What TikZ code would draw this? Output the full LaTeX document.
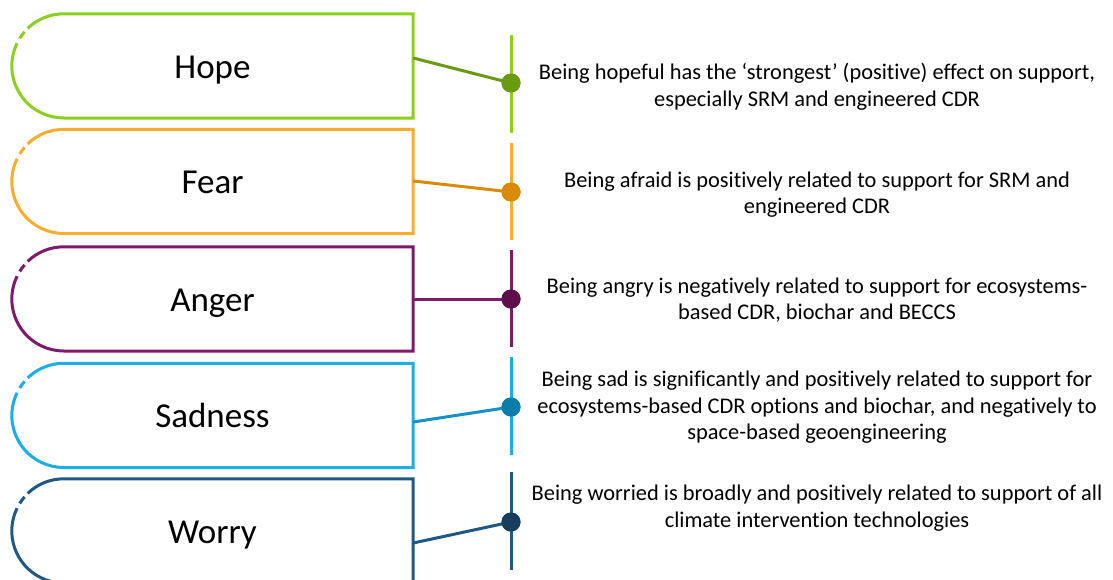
\documentclass[tikz,border=0pt]{standalone}
\usepackage{fontspec}
\setmainfont{Carlito}[Ligatures=NoCommon]
\usetikzlibrary{calc}
\definecolor{HopeBox}{RGB}{140,208,30}
\definecolor{HopeDark}{RGB}{106,154,16}
\definecolor{FearBox}{RGB}{250,173,45}
\definecolor{FearDark}{RGB}{217,138,8}
\definecolor{AngerBox}{RGB}{126,26,108}
\definecolor{AngerDark}{RGB}{94,14,76}
\definecolor{SadBox}{RGB}{26,174,228}
\definecolor{SadLink}{RGB}{20,145,200}
\definecolor{SadDark}{RGB}{12,124,170}
\definecolor{WorryBox}{RGB}{31,88,132}
\definecolor{WorryDark}{RGB}{22,62,95}
\tikzset{
  emolabel/.style={minimum width=401pt, minimum height=104pt, inner sep=0pt,
    text height=24pt, text depth=0pt, font=\fontsize{35}{40}\selectfont},
  outline/.style={line width=3pt, line join=miter},
  stem/.style={line width=3pt},
  link/.style={line width=3pt},
  dotnode/.style={circle, minimum size=19pt, inner sep=0pt},
  desc/.style={align=center, inner sep=0pt, font=\fontsize{22.4}{26.6}\selectfont},
}
% #1 name, #2 colour, #3 label, #4 centre y
\newcommand\EmoBox[4]{%
  \node[emolabel] (#1) at (212.5,-#4) {#3};
  \coordinate (#1c) at ($(#1.west)+(52,0)$);
  \draw[outline,#2] ($(#1c)+(154:52)$) arc[start angle=154,end angle=270,radius=52]
     -- (#1.south east) -- (#1.north east) -- ($(#1.north west)+(52,0)$)
     arc[start angle=90,end angle=134,radius=52];
  \draw[outline,#2] ($(#1c)+(139:52)$) arc[start angle=139,end angle=148,radius=52];
}
% #1 name, #2 stem colour, #3 link colour, #4 dot colour, #5 link offset, #6 dot y, #7 stem top, #8 stem bottom
\newcommand\EmoLink[8]{%
  \coordinate (#1top) at (511,-#7);
  \coordinate (#1bot) at (511,-#8);
  \coordinate (#1out) at ($(#1.east)+(0,#5)$);
  \node[dotnode, fill=#4] (#1dot) at (511,-#6) {};
  \draw[stem,#2] (#1top) -- (#1bot);
  \draw[link,#3] (#1out) -- (#1dot.center);
  \fill[#4] (#1dot.center) circle[radius=9.5];
}
\begin{document}
\begin{tikzpicture}[x=1pt,y=1pt]
\useasboundingbox (0,0) rectangle (1113,-579);
\clip (0,0) rectangle (1113,-579);
\fill[white] (0,0) rectangle (1113,-579);

\EmoBox{hope}{HopeBox}{Hope}{66}
\EmoBox{fear}{FearBox}{Fear}{181.5}
\EmoBox{anger}{AngerBox}{Anger}{299}
\EmoBox{sad}{SadBox}{Sadness}{415.5}
\EmoBox{worry}{WorryBox}{Worry}{531}

\EmoLink{hope}{HopeBox}{HopeDark}{HopeDark}{8}{83}{35}{133}
\EmoLink{fear}{FearBox}{FearDark}{FearDark}{0.5}{192}{143}{240}
\EmoLink{anger}{AngerBox}{AngerBox}{AngerDark}{0}{299}{250}{347}
\EmoLink{sad}{SadBox}{SadLink}{SadDark}{-6.5}{407}{357}{455}
\EmoLink{worry}{WorryBox}{WorryBox}{WorryDark}{-12}{522}{472}{570}

\node[desc] (hopetext) at (817,-86.5) {Being hopeful has the ‘strongest’ (positive) effect on support,\\especially SRM and engineered CDR};
\node[desc] (feartext) at (817,-194.5) {Being afraid is positively related to support for SRM and\\engineered CDR};
\node[desc] (angertext) at (817,-300) {Being angry is negatively related to support for ecosystems-\\based CDR, biochar and BECCS};
\node[desc] (sadtext) at (817,-407.5) {Being sad is significantly and positively related to support for\\ecosystems-based CDR options and biochar, and negatively to\\space-based geoengineering};
\node[desc] (worrytext) at (817,-508) {Being worried is broadly and positively related to support of all\\climate intervention technologies};
\end{tikzpicture}
\end{document}
